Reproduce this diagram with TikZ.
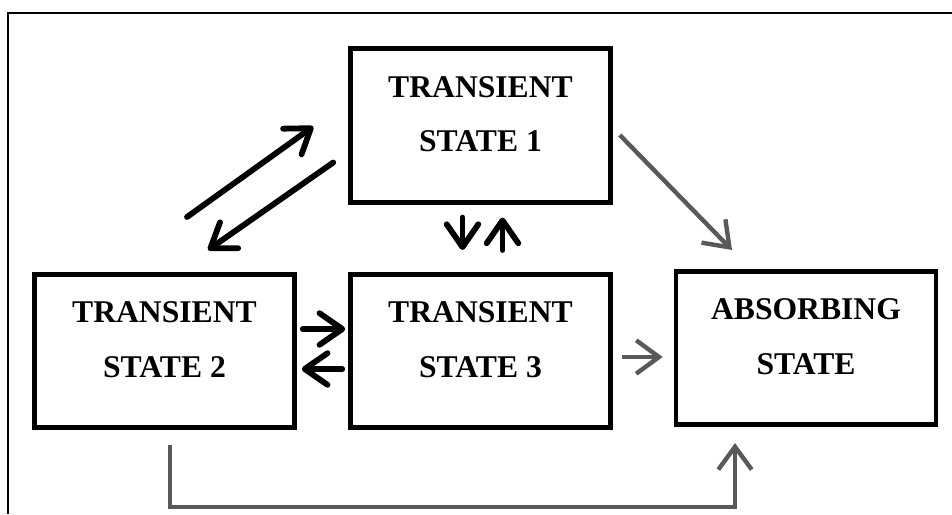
\documentclass[tikz,border=0pt]{standalone}
\usepackage{fontspec}
\setmainfont{Liberation Serif}
\usetikzlibrary{arrows.meta}
\definecolor{linegray}{HTML}{595959}

\begin{document}
\begin{tikzpicture}[x=0.02cm, y=-0.02cm,
        statebox/.style={draw, line width=2.6pt, minimum width=5.2cm, inner sep=0pt,
            align=center, font=\fontsize{18}{31}\selectfont\bfseries,
            text height=2.055cm, text depth=1.015cm},
        blk/.style={line width=3.3pt, line cap=round,
            -{Straight Barb[length=13pt, width=18pt, round]}},
        gry/.style={draw=linegray, line width=2.5pt,
            -{Straight Barb[length=13pt, width=19pt]}}]
                                \useasboundingbox (0,0) rectangle (952,514);
                                \draw[line width=0.85pt] (8,514) -- (8,13) -- (952,13);
                                \node[statebox] (ts1) at (480.5,125.5) {TRANSIENT\\STATE 1};
                                \node[statebox] (ts2) at (164.5,351) {TRANSIENT\\STATE 2};
                                \node[statebox] (ts3) at (480.5,351) {TRANSIENT\\STATE 3};
                                \node[statebox] (abs) at (806,348) {ABSORBING\\STATE};
                                \draw[blk] ([shift={(22.5,-55)}]ts2.north) -- ([shift={(-35,-78)}]ts1.south west);
                                \draw[blk] ([shift={(-15,-42)}]ts1.south west) -- ([shift={(43.5,-22)}]ts2.north);
                                \draw[blk] ([shift={(-18,13)}]ts1.south) -- ([shift={(-18,-22)}]ts3.north);
                                \draw[blk] ([shift={(22,-22)}]ts3.north) -- ([shift={(22,13)}]ts1.south);
                                \draw[blk] ([shift={(6,-22)}]ts2.east) -- ([shift={(-3,-22)}]ts3.west);
                                \draw[blk] ([shift={(-6,18)}]ts3.west) -- ([shift={(5,18)}]ts2.east);
                                \draw[gry] ([shift={(7,9.5)}]ts1.east) -- ([shift={(-74,-19)}]abs.north);
                                \draw[gry] ([shift={(9,6)}]ts3.east) -- ([shift={(-11,9)}]abs.west);
                                \draw[gry] ([shift={(5.5,15)}]ts2.south) -- ++(0,62) -| ([shift={(-71,16)}]abs.south);
                            \end{tikzpicture}
\end{document}
